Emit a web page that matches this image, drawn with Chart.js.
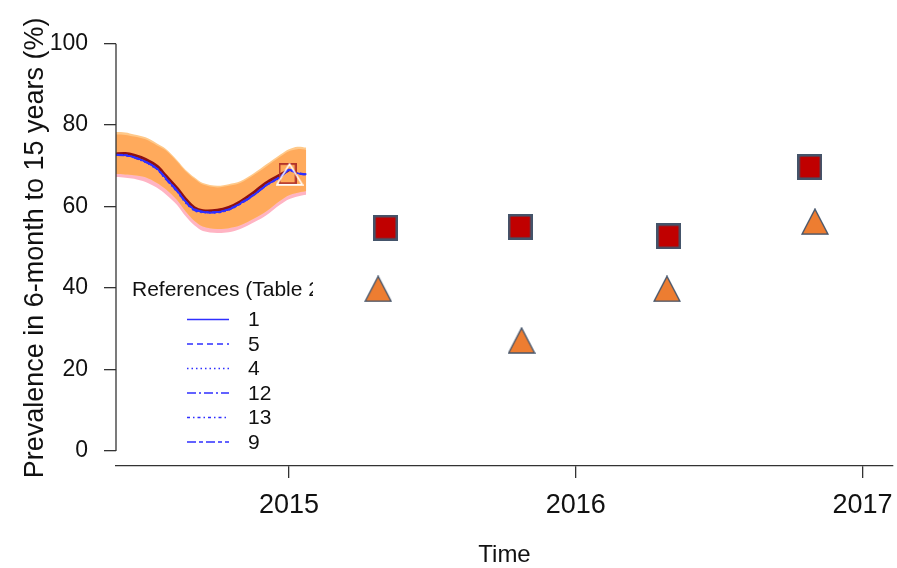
<!DOCTYPE html>
<html>
<head>
<meta charset="utf-8">
<script src="https://cdn.jsdelivr.net/npm/chart.js@4.4.1/dist/chart.umd.min.js"></script>
<style>
  html, body { margin: 0; padding: 0; background: #ffffff; }
  #wrap { width: 897px; height: 568px; }
</style>
</head>
<body>
<div id="wrap"><canvas id="chart" width="897" height="568"></canvas></div>
<script>
// ---- Time grid of the modelled period (decimal years) ----
const times = [2014.39, 2014.43, 2014.46, 2014.50, 2014.54, 2014.57, 2014.61, 2014.64, 2014.67,
               2014.70, 2014.75, 2014.79, 2014.83, 2014.88, 2014.92, 2014.97, 2015.00, 2015.03, 2015.06];

// ---- Uncertainty bands (%) ----
const bandUpper   = [77.7, 77.6, 77.2, 76.5, 75.0, 73.8, 71.0, 68.6, 66.8, 65.4, 64.7, 65.1, 65.8, 67.9, 69.8, 72.3, 73.6, 74.1, 73.9];
const bandLower   = [68.0, 67.9, 67.7, 67.2, 65.8, 64.3, 61.6, 58.8, 56.5, 55.1, 54.5, 54.7, 55.4, 57.1, 58.8, 61.5, 62.8, 63.4, 63.8];
const pinkLower   = [67.3, 67.1, 66.8, 66.0, 64.6, 63.0, 60.4, 57.6, 55.4, 54.0, 53.5, 53.7, 54.5, 56.2, 57.8, 60.5, 61.8, 62.5, 62.9];
const yellowUpper = [78.3, 78.2, 77.7, 77.0, 75.5, 74.2, 71.4, 69.0, 67.2, 65.8, 65.1, 65.5, 66.2, 68.3, 70.3, 72.8, 74.1, 74.7, 74.5];

// ---- Model fit (%) ----
const modelFit = [72.9, 73.0, 72.6, 71.6, 69.9, 67.6, 64.5, 61.8, 59.7, 59.0, 59.1, 59.8, 61.2, 63.6, 65.8, 67.8, 69.0];

// ---- Reference curves (%) ----
const refLabels = ['1', '5', '4', '12', '13', '9'];
const ref1  = [72.7, 72.6, 72.1, 71.0, 69.3, 67.0, 63.9, 61.2, 59.3, 58.7, 58.6, 59.3, 60.7, 63.0, 65.2, 67.3, 69.0, 68.2, 67.9];
const ref5  = [72.6, 72.6, 72.0, 70.9, 69.2, 66.8, 63.7, 61.0, 59.1, 58.6, 58.7, 59.4, 60.9, 63.1, 65.3, 67.4, 68.9, 68.1, 67.8];
const ref4  = [72.7, 72.5, 72.0, 70.8, 69.1, 66.7, 63.6, 60.9, 59.0, 58.5, 58.6, 59.2, 60.8, 63.0, 65.1, 67.2, 68.8, 68.2, 67.9];
const ref12 = [72.8, 72.7, 72.2, 71.1, 69.4, 67.1, 64.0, 61.3, 59.4, 58.8, 58.7, 59.3, 60.6, 62.9, 65.1, 67.3, 69.1, 68.3, 68.0];
const ref13 = [72.7, 72.6, 72.1, 71.0, 69.2, 66.9, 63.8, 61.1, 59.2, 58.7, 58.5, 59.1, 60.6, 62.9, 65.2, 67.2, 68.9, 68.2, 67.9];
const ref9  = [72.6, 72.5, 72.1, 71.0, 69.3, 67.0, 63.9, 61.2, 59.3, 58.6, 58.6, 59.3, 60.7, 63.0, 65.2, 67.3, 69.0, 68.1, 67.8];
const refSeries = [ref1, ref5, ref4, ref12, ref13, ref9];

// ---- Survey observations ----
const openSquareT = [2014.995];  const openSquareV = [68.1];
const openTriT    = [2015.002];  const openTriV    = [67.9];
const squareT   = [2015.337, 2015.806, 2016.324, 2016.816];
const squareV   = [54.8, 55.0, 52.7, 69.7];
const triangleT = [2015.311, 2015.811, 2016.318, 2016.834];
const triangleV = [39.8, 27.1, 39.8, 56.3];

// ---- Axis ticks ----
const xTicks = [2015, 2016, 2017];
const yTicks = [0, 20, 40, 60, 80, 100];

const FONT = '"Liberation Sans", Arial, Helvetica, sans-serif';
const INK = '#111111';
const BLUE = '#2f2fff';
const refDashes = [[], [6, 4], [1.5, 3], [9, 3, 2, 3], [3, 3, 1.5, 3], [9, 3, 4, 3]];

const pts = (xs, ys) => ys.map((v, i) => ({ x: xs[i], y: v }));

// marker glyphs
function makeSquare(w, h, fill, stroke, lw) {
  const c = document.createElement('canvas');
  c.width = w; c.height = h;
  const g = c.getContext('2d');
  if (fill) { g.fillStyle = fill; g.fillRect(lw / 2, lw / 2, w - lw, h - lw); }
  g.strokeStyle = stroke; g.lineWidth = lw;
  g.strokeRect(lw / 2, lw / 2, w - lw, h - lw);
  return c;
}
function makeTriangle(w, h, fill, stroke, lw) {
  const c = document.createElement('canvas');
  c.width = w; c.height = h;
  const g = c.getContext('2d');
  const m = lw / 2 + 0.3;
  g.beginPath();
  g.moveTo(w / 2, m);
  g.lineTo(w - m, h - m);
  g.lineTo(m, h - m);
  g.closePath();
  if (fill) { g.fillStyle = fill; g.fill(); }
  g.strokeStyle = stroke; g.lineWidth = lw; g.lineJoin = 'miter';
  g.stroke();
  return c;
}
const squareImg = makeSquare(25, 26, '#C00000', '#44546A', 2.6);
const triImg = makeTriangle(28, 27, '#ED7D31', '#44546A', 1.4);
const openSquareImg = makeSquare(18, 21, null, '#B3342A', 1.8);
const openTriImg = makeTriangle(28, 23, null, '#ffffff', 1.6);

const band = (data, fill, bg, order) => ({
  data: pts(times, data), showLine: true, borderWidth: 0, borderColor: 'rgba(0,0,0,0)',
  pointRadius: 0, fill: fill, backgroundColor: bg, order: order, tension: 0.3
});

const datasets = [
  band(pinkLower, false, 'rgba(0,0,0,0)', 30),
  band(bandUpper, '-1', '#FFB4C3', 29),
  band(bandLower, false, 'rgba(0,0,0,0)', 28),
  band(yellowUpper, '-1', '#FFC98A', 27),
  band(bandLower, false, 'rgba(0,0,0,0)', 26),
  band(bandUpper, '-1', '#FFAA5C', 25),
  {
    data: pts(times, modelFit), showLine: true, borderColor: '#8E1111', borderWidth: 3,
    pointRadius: 0, fill: false, order: 20, tension: 0.3
  }
];
refSeries.forEach((s, i) => {
  datasets.push({
    data: pts(times, s), showLine: true, borderColor: BLUE, borderWidth: 1.5,
    borderDash: refDashes[i], pointRadius: 0, fill: false, order: 19 - i, tension: 0.3
  });
});
datasets.push(
  { data: pts(openSquareT, openSquareV), pointStyle: openSquareImg, pointRadius: 10, order: 5 },
  { data: pts(openTriT, openTriV), pointStyle: openTriImg, pointRadius: 10, order: 4 },
  { data: pts(squareT, squareV), pointStyle: squareImg, pointRadius: 13, order: 3 },
  { data: pts(triangleT, triangleV), pointStyle: triImg, pointRadius: 13, order: 2 }
);

// axis line, year labels, titles and the reference key
const decor = {
  id: 'decor',
  afterDraw(chart) {
    const { ctx, chartArea, scales } = chart;
    const x = scales.x, y = scales.y;
    ctx.save();
    // left axis line spanning the tick range
    ctx.strokeStyle = '#333333';
    ctx.lineWidth = 1.3;
    ctx.beginPath();
    ctx.moveTo(chartArea.left, y.getPixelForValue(yTicks[0]));
    ctx.lineTo(chartArea.left, y.getPixelForValue(yTicks[yTicks.length - 1]));
    ctx.stroke();

    // year labels under the time axis
    ctx.fillStyle = INK;
    ctx.font = '27px ' + FONT;
    ctx.textAlign = 'center';
    ctx.textBaseline = 'alphabetic';
    xTicks.forEach(v => ctx.fillText(String(v), x.getPixelForValue(v), 513));

    // axis titles
    ctx.font = '24px ' + FONT;
    ctx.fillText('Time', (chartArea.left + chartArea.right) / 2, 562);

    ctx.save();
    ctx.translate(43, (chartArea.top + chartArea.bottom) / 2);
    ctx.rotate(-Math.PI / 2);
    ctx.font = '27px ' + FONT;
    ctx.fillText('Prevalence in 6-month to 15 years (%)', 0, 0);
    ctx.restore();

    // reference key, clipped on its right side
    ctx.save();
    ctx.beginPath();
    ctx.rect(0, 0, 313, 568);
    ctx.clip();
    ctx.font = '21px ' + FONT;
    ctx.textAlign = 'left';
    ctx.fillStyle = INK;
    ctx.fillText('References (Table 2)', 132, 296);
    ctx.textBaseline = 'middle';
    refLabels.forEach((lab, i) => {
      const ry = 319.5 + i * 24.5;
      ctx.strokeStyle = BLUE;
      ctx.lineWidth = 1.5;
      ctx.setLineDash(refDashes[i]);
      ctx.beginPath();
      ctx.moveTo(187, ry);
      ctx.lineTo(229, ry);
      ctx.stroke();
      ctx.setLineDash([]);
      ctx.fillText(lab, 248, ry + 1);
    });
    ctx.restore();
    ctx.restore();
  }
};

new Chart(document.getElementById('chart'), {
  type: 'scatter',
  data: { datasets },
  options: {
    responsive: false,
    animation: false,
    devicePixelRatio: 1,
    events: [],
    layout: { autoPadding: false, padding: { top: 29, right: 4, left: 0, bottom: 0 } },
    plugins: { legend: { display: false }, tooltip: { enabled: false } },
    scales: {
      x: {
        type: 'linear',
        min: 2014.397,
        max: 2017.106,
        afterBuildTicks: s => { s.ticks = xTicks.map(v => ({ value: v })); },
        afterFit: s => { s.height = 102; },
        border: { display: true, color: '#333333', width: 1.3 },
        grid: { drawOnChartArea: false, drawTicks: true, tickLength: 12, color: '#333333', lineWidth: 1.3 },
        ticks: { display: false }
      },
      y: {
        type: 'linear',
        min: -3.7,
        max: 103.4,
        afterBuildTicks: s => { s.ticks = yTicks.map(v => ({ value: v })); },
        afterFit: s => { s.width = 116; },
        border: { display: false },
        grid: { drawOnChartArea: false, drawTicks: true, tickLength: 12, color: '#333333', lineWidth: 1.3 },
        ticks: {
          color: INK, padding: 16,
          font: { family: FONT, size: 23 },
          callback: v => String(v)
        }
      }
    }
  },
  plugins: [decor]
});
</script>
</body>
</html>
